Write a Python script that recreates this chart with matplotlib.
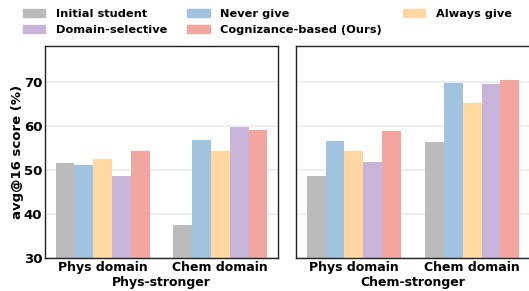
import numpy as np
import matplotlib
matplotlib.use('Agg')
import matplotlib.pyplot as plt
from matplotlib.patches import Patch

methods = ['Initial student', 'Never give', 'Always give', 'Domain-selective', 'Cognizance-based (Ours)']
colors = ['#bbbbbb', '#a1c3e0', '#fed8a0', '#c8b4d8', '#f3a6a0']
domains = ['Phys domain', 'Chem domain']
panels = ['Phys-stronger', 'Chem-stronger']

# scores per method, [phys domain, chem domain]
phys_stronger = [
    [51.6, 37.4],
    [51.1, 56.8],
    [52.5, 54.3],
    [48.6, 59.7],
    [54.3, 59.1],
]
chem_stronger = [
    [48.6, 56.3],
    [56.6, 69.9],
    [54.3, 65.2],
    [51.8, 69.5],
    [58.8, 70.4],
]
scores = [phys_stronger, chem_stronger]

plt.rcParams['font.family'] = 'DejaVu Sans'
plt.rcParams['font.weight'] = 'bold'

fig = plt.figure(figsize=(5.29, 2.91), dpi=100)
ax1 = fig.add_axes([45 / 529, 33 / 291, 233 / 529, 212 / 291])
ax2 = fig.add_axes([296 / 529, 33 / 291, 234 / 529, 212 / 291], sharey=ax1)

index = np.arange(len(domains))
bar_width = 0.16

for ax, data, name in zip([ax1, ax2], scores, panels):
    for i, (vals, c) in enumerate(zip(data, colors)):
        ax.bar(index + (i - 2) * bar_width, vals, bar_width, color=c, zorder=2)
    ax.set_ylim(30, 78.2)
    ax.set_yticks([30, 40, 50, 60, 70])
    ax.yaxis.grid(True, color='#ececec', linewidth=1.2, zorder=0)
    ax.set_axisbelow(True)
    ax.set_xticks(index)
    ax.set_xticklabels(domains, fontsize=9, fontweight='bold')
    ax.tick_params(axis='both', length=0, pad=2)
    ax.set_xlabel(name, fontsize=9, fontweight='bold', labelpad=1.5)
    for s in ax.spines.values():
        s.set_color('#222222')
        s.set_linewidth(1.0)

for lab in ax1.get_yticklabels():
    lab.set_fontsize(9.5)
    lab.set_fontweight('bold')
ax1.set_ylabel('avg@16 score (%)', fontsize=9.5, fontweight='bold', labelpad=0)
plt.setp(ax2.get_yticklabels(), visible=False)

handles = [Patch(color=c, label=m) for m, c in zip(methods, colors)]
order = [0, 3, 1, 4, 2]
fig.legend([handles[k] for k in order], [methods[k] for k in order],
           loc='upper center', bbox_to_anchor=(0.505, 1.003), ncol=3, frameon=False,
           prop={'size': 8.2, 'weight': 'bold'}, handlelength=2.0, handletextpad=0.9,
           columnspacing=1.8, labelspacing=0.5)

fig.savefig('out.png', dpi=100)
